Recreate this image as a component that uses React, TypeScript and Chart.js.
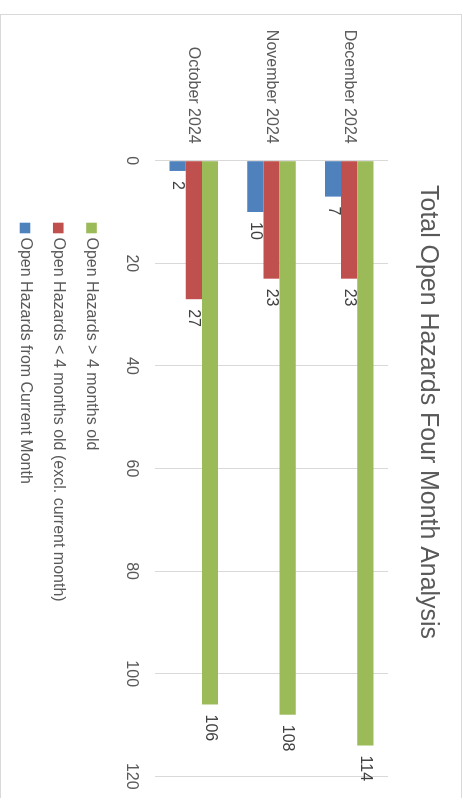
import React, { useEffect, useRef } from "react";
import { Chart, registerables } from "chart.js";

Chart.register(...registerables);

// Monthly categories, top to bottom
const months = ["December 2024", "November 2024", "October 2024"];

// Series values per month
const olderThanFourMonths = [114, 108, 106];
const underFourMonths = [23, 23, 27];
const currentMonth = [7, 10, 2];

const seriesLabels = [
  "Open Hazards > 4 months old",
  "Open Hazards < 4 months old (excl. current month)",
  "Open Hazards from Current Month",
];
const seriesColors = ["#9bbb59", "#c0504d", "#4f81bd"];

const axisMax = 120;
const axisStep = 20;

const chartTitle = "Total Open Hazards Four Month Analysis";

// Landscape chart size; it is turned a quarter clockwise on the page
const W = 796;
const H = 462;
const FONT = '"Liberation Sans", Arial, sans-serif';
const TEXT = "#595959";
const GRID = "#d9d9d9";

// Value printed just past the end of every bar
const valueLabels = {
  id: "valueLabels",
  afterDatasetsDraw(chart: any) {
    const ctx = chart.ctx;
    ctx.save();
    ctx.font = `16px ${FONT}`;
    ctx.fillStyle = "#404040";
    ctx.textAlign = "left";
    ctx.textBaseline = "middle";
    chart.data.datasets.forEach((ds: any, i: number) => {
      const meta = chart.getDatasetMeta(i);
      meta.data.forEach((bar: any, j: number) => {
        ctx.fillText(String(ds.data[j]), bar.x + 10, bar.y);
      });
    });
    ctx.restore();
  },
};

// One legend entry per line beneath the value axis
const stackedLegend = {
  id: "stackedLegend",
  afterDraw(chart: any) {
    const { ctx, chartArea } = chart;
    ctx.save();
    ctx.font = `16px ${FONT}`;
    ctx.textAlign = "left";
    ctx.textBaseline = "middle";
    chart.data.datasets.forEach((ds: any, i: number) => {
      const cy = chartArea.bottom + 63.5 + i * 33.25;
      ctx.fillStyle = ds.backgroundColor;
      ctx.fillRect(208.7, cy - 5.3, 10.6, 10.6);
      ctx.fillStyle = TEXT;
      ctx.fillText(ds.label, 223.5, cy);
    });
    ctx.restore();
  },
};

// White background and thin outer frame
const frame = {
  id: "frame",
  beforeDraw(chart: any) {
    const ctx = chart.ctx;
    ctx.save();
    ctx.fillStyle = "#ffffff";
    ctx.fillRect(0, 0, chart.width, chart.height);
    ctx.restore();
  },
  afterDraw(chart: any) {
    const ctx = chart.ctx;
    ctx.save();
    ctx.strokeStyle = GRID;
    ctx.lineWidth = 1;
    ctx.strokeRect(0.5, 0.5, chart.width - 1, chart.height - 1);
    ctx.restore();
  },
};

export default function App() {
  const canvasRef = useRef<HTMLCanvasElement | null>(null);

  useEffect(() => {
    if (!canvasRef.current) return;
    const series = [olderThanFourMonths, underFourMonths, currentMonth];
    const chart = new Chart(canvasRef.current, {
      type: "bar",
      data: {
        labels: months,
        datasets: series.map((values, i) => ({
          label: seriesLabels[i],
          data: values,
          backgroundColor: seriesColors[i],
          borderWidth: 0,
          categoryPercentage: 0.625,
          barPercentage: 1,
        })),
      },
      options: {
        indexAxis: "y",
        responsive: false,
        animation: false,
        events: [],
        layout: { padding: { left: 0, right: 0, top: 0, bottom: 115 } },
        plugins: {
          legend: { display: false },
          tooltip: { enabled: false },
          title: {
            display: true,
            text: chartTitle,
            color: TEXT,
            font: { family: FONT, size: 24.9, weight: "normal" },
            padding: { top: 19.1, bottom: 25.0 },
          },
        },
        scales: {
          x: {
            min: 0,
            max: axisMax,
            ticks: {
              stepSize: axisStep,
              color: TEXT,
              font: { family: FONT, size: 16 },
              padding: 14,
            },
            grid: { color: GRID, drawTicks: false },
            border: { display: false },
            afterFit(scale: any) {
              scale.height = 40;
              scale.paddingRight = 33.7;
            },
          },
          y: {
            ticks: {
              color: TEXT,
              font: { family: FONT, size: 16 },
              padding: 17,
            },
            grid: { display: false, drawTicks: false },
            border: { display: false },
            afterFit(scale: any) {
              scale.width = 146.7;
            },
          },
        },
      },
      plugins: [frame, valueLabels, stackedLegend],
    } as any);
    return () => chart.destroy();
  }, []);

  return (
    <div
      style={{
        position: "fixed",
        left: 0,
        top: 0,
        width: 467,
        height: 798,
        overflow: "hidden",
        background: "#ffffff",
      }}
    >
      <div
        style={{
          position: "absolute",
          left: 0,
          top: 0,
          width: W,
          height: H,
          transformOrigin: "0 0",
          transform: "translate(462px, 14px) rotate(90deg)",
        }}
      >
        <canvas
          ref={canvasRef}
          width={W}
          height={H}
          style={{ display: "block", width: W, height: H }}
        />
      </div>
    </div>
  );
}
